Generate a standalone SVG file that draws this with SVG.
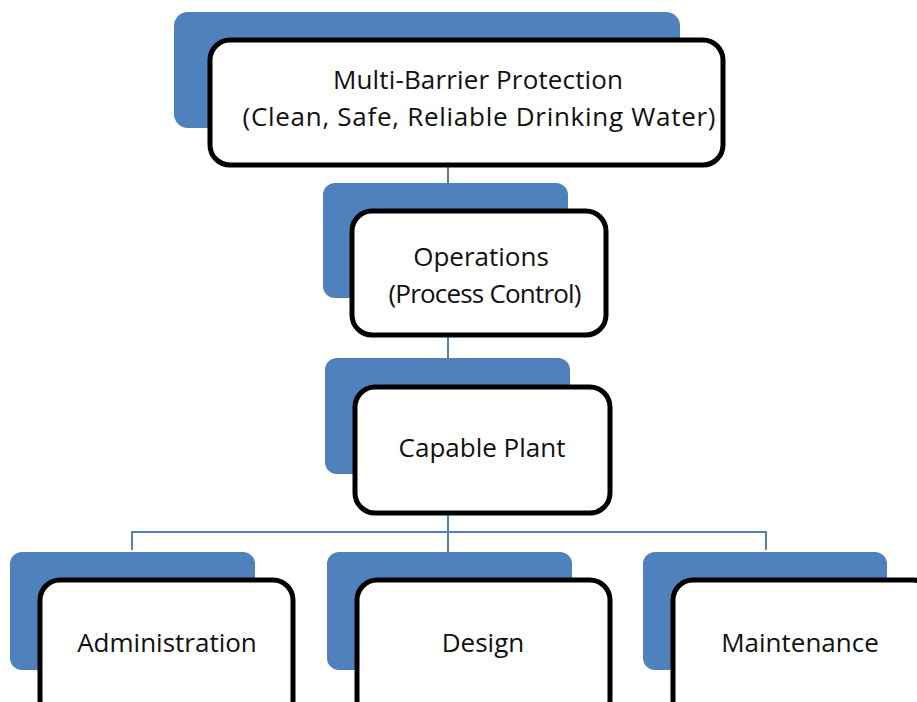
<svg xmlns="http://www.w3.org/2000/svg" width="917" height="702" viewBox="0 0 917 702">
<style>
.back{fill:#4F81BD;}
.front{fill:#fff;stroke:#000;stroke-width:5;}
.conn{fill:none;stroke:#4F81BD;stroke-width:2;}
text{font-family:"Open Sans","Liberation Sans",sans-serif;font-size:26px;fill:#111;text-anchor:middle;}
</style>
<rect width="917" height="702" fill="#fff"/>
<g id="connectors">
<path class="conn" d="M448 165V184M448 335V359M448 513V532M132 550V532H766V550M448 532V553"/>
</g>
<g id="n-top">
<rect class="back" x="174" y="12" width="506" height="116" rx="14"/>
<rect class="front" x="210" y="40" width="513" height="125" rx="20"/>
<text x="478" y="89" textLength="290">Multi-Barrier Protection</text>
<text x="479" y="126" textLength="473">(Clean, Safe, Reliable Drinking Water)</text>
</g>
<g id="n-operations">
<rect class="back" x="323" y="183" width="245" height="115" rx="12"/>
<rect class="front" x="352" y="211" width="254" height="124" rx="20"/>
<text x="481" y="266">Operations</text>
<text x="485" y="303" textLength="193">(Process Control)</text>
</g>
<g id="n-plant">
<rect class="back" x="325" y="358" width="245" height="116" rx="12"/>
<rect class="front" x="355" y="387" width="255" height="126" rx="20"/>
<text x="482" y="457">Capable Plant</text>
</g>
<g id="n-admin">
<rect class="back" x="10" y="552" width="245" height="118" rx="12"/>
<rect class="front" x="40" y="580" width="253" height="140" rx="20"/>
<text x="167" y="652">Administration</text>
</g>
<g id="n-design">
<rect class="back" x="327" y="552" width="245" height="118" rx="12"/>
<rect class="front" x="357" y="580" width="253" height="140" rx="20"/>
<text x="483" y="652">Design</text>
</g>
<g id="n-maint">
<rect class="back" x="643" y="552" width="244" height="118" rx="12"/>
<rect class="front" x="673" y="580" width="260" height="140" rx="20"/>
<text x="800" y="652">Maintenance</text>
</g>
</svg>
